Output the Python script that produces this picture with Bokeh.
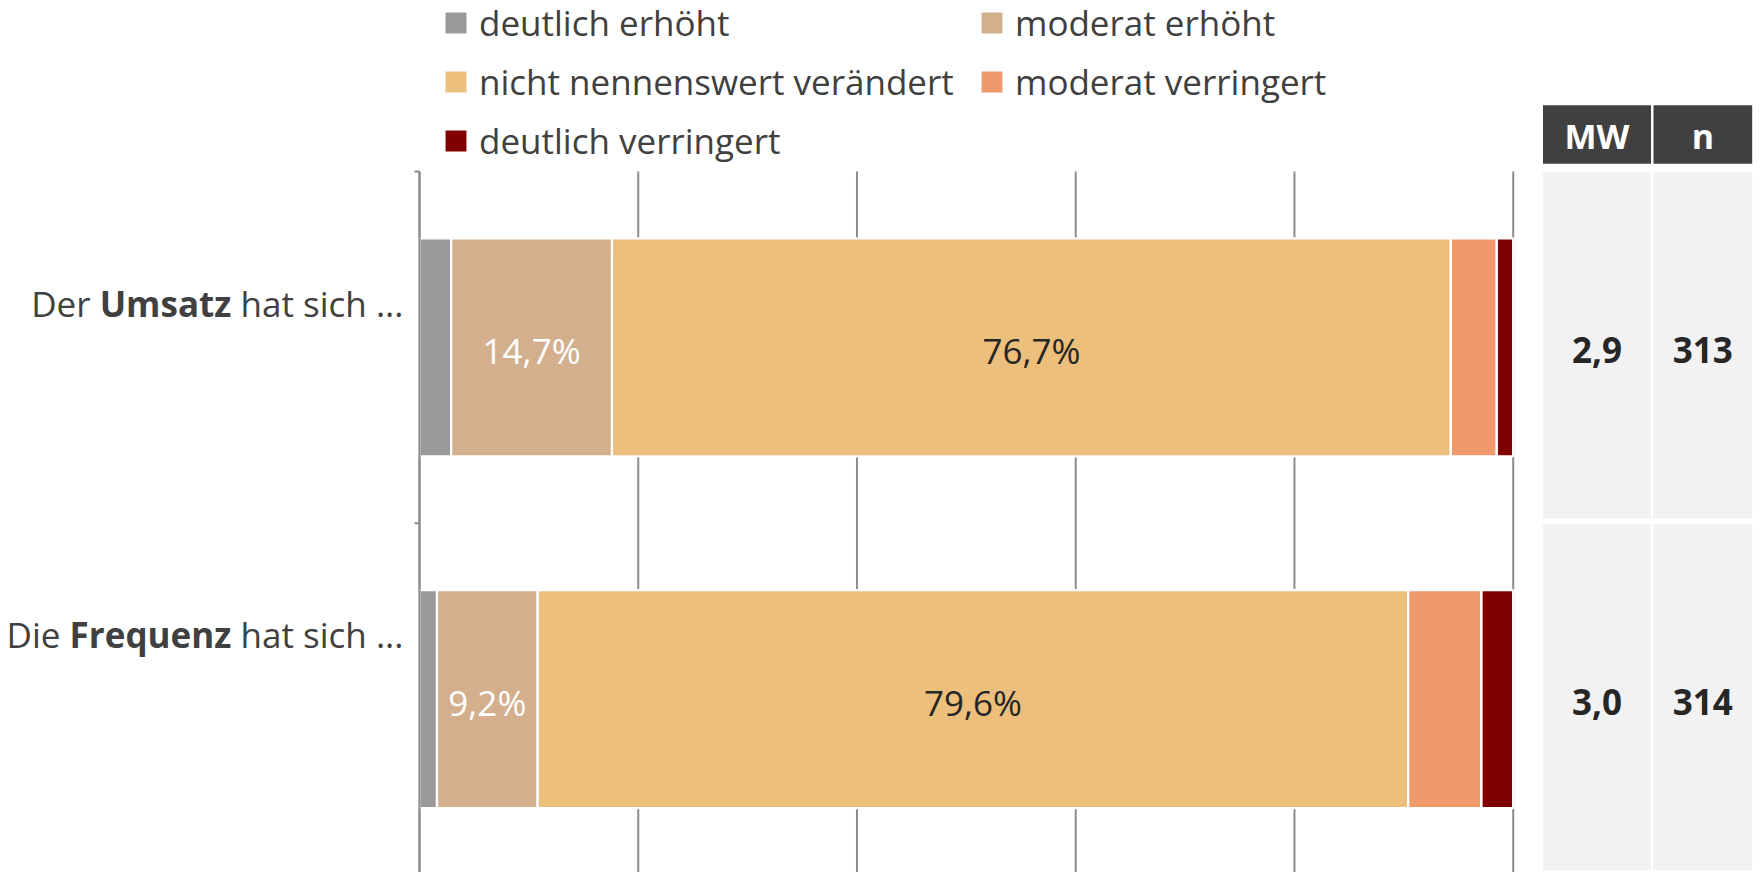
import os, glob, struct, subprocess
from bokeh.plotting import figure
from bokeh.models import Range1d, ColumnDataSource, Label
from bokeh.embed import file_html
from bokeh.resources import INLINE
from bokeh.core.properties import value

# ---------------- data ----------------
cat_lead = ["Der", "Die"]
cat_bold = ["Umsatz", "Frequenz"]
cat_tail = ["hat sich ...", "hat sich ..."]

series = ["deutlich erhöht", "moderat erhöht", "nicht nennenswert verändert",
          "moderat verringert", "deutlich verringert"]
deutlich_erhoeht = [2.9, 1.6]
moderat_erhoeht = [14.7, 9.2]
nicht_veraendert = [76.7, 79.6]
moderat_verringert = [4.2, 6.7]
deutlich_verringert = [1.5, 2.9]

table_headers = ["MW", "n"]
mw = [2.9, 3.0]
n_resp = [313, 314]

x_ticks = [0, 20, 40, 60, 80, 100]

# ---------------- styles / layout (pixels) ----------------
colors = ["#999999", "#D3AF8E", "#ECC07C", "#F0996B", "#800000"]
label_colors = ["#FFFFFF", "#FFFFFF", "#262626", "#262626", "#FFFFFF"]
LABEL_MIN = 8.0
FONT = "Open Sans"
FS = 35
TXT = "#404040"
GRIDC = "#8C8C8C"

W, H = 1760, 872
X0 = 419.0            # px of 0 %
PXP = 10.937          # px per percent
Y0 = 171.0            # px of top of first category band
BAND = 351.7          # px per category band
BAR_H = 218 / BAND
FIX = -14.0           # px correction of rendered alphabetic baseline
BASE_OFF = (17 + FIX) / BAND
CAT_LABEL_SHIFT = [(-30.2 + FIX) / BAND, (-50.2 + FIX) / BAND]
TICK_LEN = 5 / PXP


def px_x(px):
    return (px - X0) / PXP


def px_y(py):
    return (py - Y0) / BAND


# ---------------- font metrics (for mixed bold labels) ----------------
def load_widths(path):
    data = open(path, "rb").read()
    off0 = struct.unpack(">I", data[12:16])[0] if data[:4] == b"ttcf" else 0
    num = struct.unpack(">H", data[off0 + 4:off0 + 6])[0]
    tabs = {}
    for i in range(num):
        rec = off0 + 12 + 16 * i
        tag, _, off, ln = struct.unpack(">4sIII", data[rec:rec + 16])
        tabs[tag.decode("latin1")] = off
    upem = struct.unpack(">H", data[tabs["head"] + 18:tabs["head"] + 20])[0]
    nhm = struct.unpack(">H", data[tabs["hhea"] + 34:tabs["hhea"] + 36])[0]
    ho = tabs["hmtx"]
    adv = [struct.unpack(">H", data[ho + 4 * i:ho + 4 * i + 2])[0] for i in range(nhm)]
    co = tabs["cmap"]
    nsub = struct.unpack(">H", data[co + 2:co + 4])[0]
    sub = None
    for i in range(nsub):
        pid, eid, so = struct.unpack(">HHI", data[co + 4 + 8 * i:co + 12 + 8 * i])
        fmt = struct.unpack(">H", data[co + so:co + so + 2])[0]
        if fmt == 4 and ((pid == 3 and eid == 1) or pid == 0):
            sub = co + so
            break
    segx2 = struct.unpack(">H", data[sub + 6:sub + 8])[0]
    seg = segx2 // 2
    ends = struct.unpack(">%dH" % seg, data[sub + 14:sub + 14 + segx2])
    starts = struct.unpack(">%dH" % seg, data[sub + 16 + segx2:sub + 16 + 2 * segx2])
    deltas = struct.unpack(">%dh" % seg, data[sub + 16 + 2 * segx2:sub + 16 + 3 * segx2])
    rpos = sub + 16 + 3 * segx2
    roffs = struct.unpack(">%dH" % seg, data[rpos:rpos + segx2])

    def gid(ch):
        c = ord(ch)
        for i in range(seg):
            if ends[i] >= c:
                if starts[i] > c:
                    return 0
                if roffs[i] == 0:
                    return (c + deltas[i]) & 0xFFFF
                a = rpos + 2 * i + roffs[i] + 2 * (c - starts[i])
                g = struct.unpack(">H", data[a:a + 2])[0]
                return (g + deltas[i]) & 0xFFFF if g else 0
        return 0

    def width(s, size):
        return sum(adv[min(gid(ch), nhm - 1)] for ch in s) * size / upem
    return width


def find_font(family, bold):
    key = family.replace(" ", "").lower()
    cands = []
    try:
        out = subprocess.run(["fc-match", "-f", "%{file}", family + (":bold" if bold else ":regular")],
                             capture_output=True, text=True, timeout=10).stdout.strip()
        if out:
            cands.append(out)
    except Exception:
        pass
    for root in ["/usr/share/fonts", "/usr/local/share/fonts",
                 os.path.expanduser("~/.fonts"), os.path.expanduser("~/.local/share/fonts")]:
        cands += glob.glob(os.path.join(root, "**", "*.ttf"), recursive=True)
    for f in cands:
        b = os.path.basename(f).lower().replace(" ", "").replace("_", "")
        if not b.startswith(key):
            continue
        rest = b[len(key):]
        if bold and rest.startswith("-bold."):
            return f
        if not bold and (rest.startswith("-regular.") or rest.startswith(".")):
            return f
    return None


def get_width_fn(bold):
    try:
        f = find_font(FONT, bold)
        if f:
            return load_widths(f)
        f = find_font(FONT, False)
        if f:
            w = load_widths(f)
            return (lambda s, size: w(s, size) * 1.07) if bold else w
    except Exception:
        pass
    return lambda s, size: len(s) * size * (0.58 if bold else 0.53)


w_reg = get_width_fn(False)
w_bold = get_width_fn(True)

# ---------------- figure (frame = whole canvas) ----------------
p = figure(width=W, height=H, title=None, toolbar_location=None, output_backend="svg",
           x_range=Range1d(px_x(0), px_x(W)), y_range=Range1d(px_y(H), px_y(0)),
           x_axis_location=None, y_axis_location=None,
           min_border=0, min_border_left=0, min_border_right=0, min_border_top=0, min_border_bottom=0,
           outline_line_color=None, background_fill_color="white", border_fill_color="white")
p.grid.visible = False

ncat = len(cat_bold)
y_pos = [i + 0.5 for i in range(ncat)]
y_end = px_y(H)

# vertical gridlines
p.segment(x0=x_ticks, x1=x_ticks, y0=[0] * len(x_ticks), y1=[y_end] * len(x_ticks),
          line_color=GRIDC, line_width=2)

# stacked bars
values = [deutlich_erhoeht, moderat_erhoeht, nicht_veraendert, moderat_verringert, deutlich_verringert]
keys = ["s%d" % i for i in range(len(series))]
src = ColumnDataSource(dict(y=y_pos, **{k: v for k, v in zip(keys, values)}))
p.hbar_stack(keys, y="y", height=BAR_H, color=colors, source=src,
             line_color="white", line_width=2.3, legend_label=series)

# category axis: line + ticks at band boundaries
bounds = list(range(ncat))
p.segment(x0=[0], x1=[0], y0=[0], y1=[y_end], line_color=GRIDC, line_width=2)
p.segment(x0=[-TICK_LEN] * len(bounds), x1=[0] * len(bounds), y0=bounds, y1=bounds,
          line_color=GRIDC, line_width=2)

# value labels inside bars
lx, ly, lt, lc = [], [], [], []
for j, yc in enumerate(y_pos):
    left = 0.0
    for k, vals in enumerate(values):
        v = vals[j]
        if v >= LABEL_MIN:
            lx.append(left + v / 2)
            ly.append(yc + BASE_OFF)
            lt.append(("%.1f" % v).replace(".", ",") + "%")
            lc.append(label_colors[k])
        left += v
p.text(x="x", y="y", text="t", text_color="c",
       source=ColumnDataSource(dict(x=lx, y=ly, t=lt, c=lc)),
       text_align="center", text_baseline="alphabetic",
       text_font=value(FONT), text_font_size="%dpx" % FS)

# category labels (regular + bold + regular)
LABEL_GAP = -16
sp = w_reg(" ", FS)
for j, yc in enumerate(y_pos):
    yl = yc + CAT_LABEL_SHIFT[j]
    off3 = LABEL_GAP
    off2 = off3 - w_reg(cat_tail[j], FS) - sp
    off1 = off2 - w_bold(cat_bold[j], FS) - sp
    for txt, off, style in [(cat_tail[j], off3, "normal"), (cat_bold[j], off2, "bold"),
                            (cat_lead[j], off1, "normal")]:
        p.add_layout(Label(x=0, y=yl, x_units="data", y_units="data", x_offset=off,
                           text=txt, text_align="right", text_baseline="alphabetic",
                           text_font=FONT, text_font_size="%dpx" % FS, text_font_style=style,
                           text_color=TXT))

# ---------------- MW / n table ----------------
col_left = [1542.5, 1653.0]
col_w = [108.0, 98.7]
col_cx = [px_x(l + w / 2) for l, w in zip(col_left, col_w)]
col_wd = [w / PXP for w in col_w]

p.rect(x=col_cx, y=[px_y(134.0)] * 2, width=col_wd, height=[58.6 / BAND] * 2,
       fill_color="#404040", line_color=None)
p.text(x=col_cx, y=[px_y(149.3 - 13.5)] * 2, text=table_headers,
       text_align="center", text_baseline="alphabetic", text_color="white",
       text_font=value(FONT), text_font_style="bold", text_font_size="34px")

cx, cy, cw, ct = [], [], [], []
for j, yc in enumerate(y_pos):
    for c, wd, txt in zip(col_cx, col_wd, [("%.1f" % mw[j]).replace(".", ","), str(n_resp[j])]):
        cx.append(c)
        cy.append(yc)
        cw.append(wd)
        ct.append(txt)
p.rect(x=cx, y=[v - 0.5 + (1 + 172.85) / BAND for v in cy], width=cw, height=345.7 / BAND,
       fill_color="#F2F2F2", line_color=None)
p.text(x=cx, y=[v + BASE_OFF for v in cy], text=ct, text_align="center",
       text_baseline="alphabetic", text_color="#262626",
       text_font=value(FONT), text_font_style="bold", text_font_size="%dpx" % FS)

# ---------------- legend ----------------
leg = p.legend[0]
leg.orientation = "horizontal"
leg.ncols = 2
leg.glyph_width = 29
leg.glyph_height = 29
leg.label_standoff = 9
leg.label_width = 489
leg.label_height = 50
leg.spacing = 9
leg.padding = 0
leg.margin = 0
leg.label_text_font = FONT
leg.label_text_font_size = "%dpx" % FS
leg.label_text_color = TXT
leg.border_line_alpha = 0
leg.background_fill_alpha = 0
leg.location = (441, 707)

open("out.html", "w").write(file_html(p, INLINE))
